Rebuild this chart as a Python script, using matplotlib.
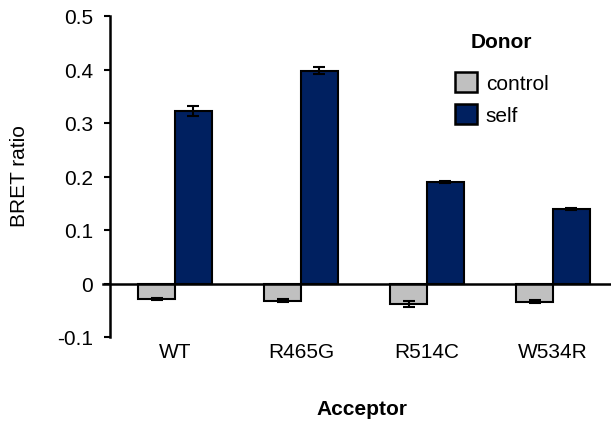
import matplotlib.pyplot as plt
import numpy as np
from matplotlib.patches import Patch

plt.rcParams['font.family'] = ['Liberation Sans', 'DejaVu Sans']

# data
acceptors = ['WT', 'R465G', 'R514C', 'W534R']
control = [-0.029, -0.032, -0.038, -0.034]
control_err = [0.002, 0.003, 0.005, 0.003]
self_vals = [0.323, 0.398, 0.189, 0.140]
self_err = [0.009, 0.007, 0.002, 0.002]

gray = '#C0C0C0'
navy = '#002060'

fig = plt.figure(figsize=(6.11, 4.27), dpi=100)
ax = fig.add_axes([110 / 611, 89 / 427, 1 - 110 / 611, (338 - 17) / 427])

x = np.arange(len(acceptors))
w = 0.29
ekw = dict(ecolor='black', elinewidth=1.5, capsize=4, capthick=1.5)
ax.bar(x - w / 2, control, w, color=gray, edgecolor='black', linewidth=1.5,
       yerr=control_err, error_kw=ekw)
ax.bar(x + w / 2, self_vals, w, color=navy, edgecolor='black', linewidth=1.5,
       yerr=self_err, error_kw=ekw)

# zero line acts as the category axis
ax.axhline(0, xmin=-0.013, xmax=1, color='black', linewidth=1.8, zorder=5, clip_on=False)

ax.set_xlim(-0.516, 3.46)
ax.set_ylim(-0.1, 0.5)
ax.set_yticks([-0.1, 0, 0.1, 0.2, 0.3, 0.4, 0.5])
ax.set_yticklabels(['-0.1', '0', '0.1', '0.2', '0.3', '0.4', '0.5'], fontsize=15)
ax.set_xticks(x)
ax.set_xticklabels(acceptors, fontsize=15)
ax.tick_params(axis='x', length=0, pad=3.5)
ax.tick_params(axis='y', length=4.5, width=1.5, direction='out', pad=7.5)

for s in ['top', 'right', 'bottom']:
    ax.spines[s].set_visible(False)
ax.spines['left'].set_linewidth(1.8)

fig.text(20 / 611, 1 - 176 / 427, 'BRET ratio', rotation=90, ha='center', va='center', fontsize=15)
fig.text(362 / 611, 1 - 410 / 427, 'Acceptor', ha='center', va='center', fontsize=15, fontweight='bold')

handles = [Patch(facecolor=gray, edgecolor='black', linewidth=1.8, label='control'),
           Patch(facecolor=navy, edgecolor='black', linewidth=1.8, label='self')]
leg = fig.legend(handles=handles, title='Donor', loc='upper left',
                 bbox_to_anchor=(455 / 611, 1 - 33 / 427), frameon=False,
                 borderaxespad=0, borderpad=0,
                 fontsize=15, title_fontproperties={'weight': 'bold', 'size': 15},
                 handlelength=1.06, handleheight=1.1, handletextpad=0.42,
                 labelspacing=0.55)
leg._legend_box.sep = 15

fig.savefig('out.png', dpi=100)
